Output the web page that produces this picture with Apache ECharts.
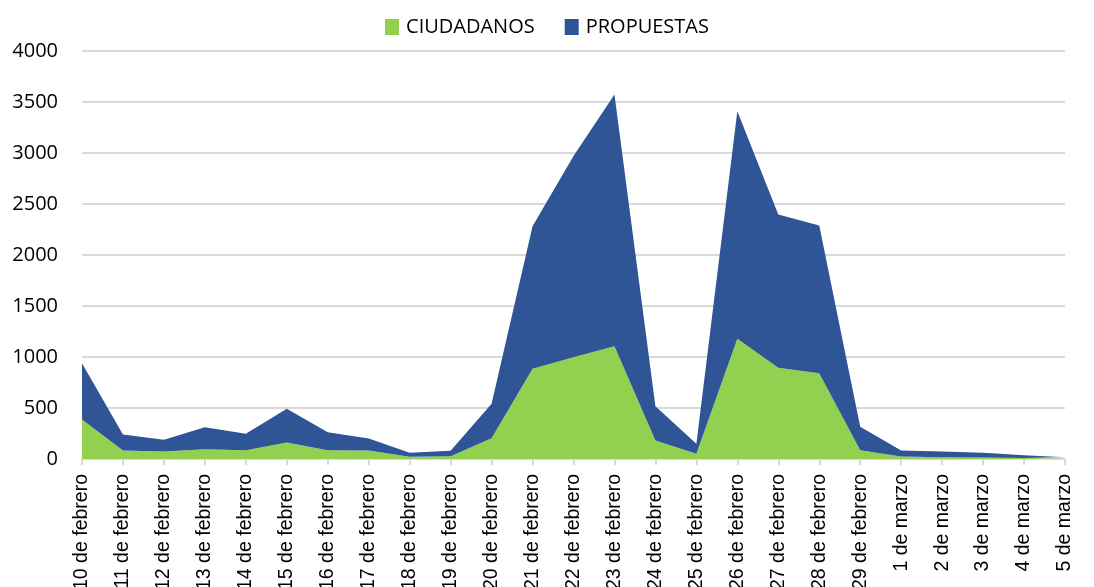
<!DOCTYPE html>
<html>
<head>
<meta charset="utf-8">
<script src="https://cdn.jsdelivr.net/npm/echarts@6/dist/echarts.min.js"></script>
<style>
  html, body { margin: 0; padding: 0; background: #fff; }
  #chart { width: 1094px; height: 587px; }
</style>
</head>
<body>
<div id="chart"></div>
<script>
const dias = [
  '10 de febrero', '11 de febrero', '12 de febrero', '13 de febrero', '14 de febrero',
  '15 de febrero', '16 de febrero', '17 de febrero', '18 de febrero', '19 de febrero',
  '20 de febrero', '21 de febrero', '22 de febrero', '23 de febrero', '24 de febrero',
  '25 de febrero', '26 de febrero', '27 de febrero', '28 de febrero', '29 de febrero',
  '1 de marzo', '2 de marzo', '3 de marzo', '4 de marzo', '5 de marzo'
];
const ciudadanos = [387, 83, 73, 96, 86, 162, 86, 83, 22, 28, 204, 884, 998, 1106, 181, 51, 1178, 894, 841, 87, 25, 18, 15, 10, 5];
const propuestas = [552, 157, 115, 216, 161, 330, 177, 118, 39, 52, 337, 1399, 1972, 2468, 337, 98, 2232, 1503, 1448, 228, 58, 56, 46, 27, 13];
const yTicks = [0, 500, 1000, 1500, 2000, 2500, 3000, 3500, 4000];

const uiFont = "'Open Sans', 'Noto Sans', sans-serif";

let myChart = echarts.init(document.getElementById('chart'));

function areaSerie(name, data, color) {
  return {
    name: name,
    type: 'line',
    stack: 'total',
    data: data,
    symbol: 'none',
    lineStyle: { width: 0 },
    areaStyle: { color: color, opacity: 1 },
    itemStyle: { color: color }
  };
}

myChart.setOption({
  animation: false,
  legend: {
    top: 12,
    left: 'center',
    itemWidth: 14,
    itemHeight: 16,
    itemGap: 30,
    icon: 'rect',
    textStyle: { fontFamily: uiFont, fontSize: 20, color: '#000', padding: [0, 0, 0, 2] },
    data: ['CIUDADANOS', 'PROPUESTAS']
  },
  grid: { left: 82, right: 29, top: 51, bottom: 128, containLabel: false, outerBoundsMode: 'none' },
  xAxis: {
    type: 'category',
    boundaryGap: false,
    data: dias,
    axisLine: { lineStyle: { color: '#d9d9d9', width: 2 } },
    axisTick: { show: true, alignWithLabel: true, length: 6, lineStyle: { color: '#d9d9d9', width: 2 } },
    axisLabel: {
      interval: 0,
      rotate: 90,
      margin: 15,
      fontFamily: "'Liberation Sans', Arial, sans-serif",
      fontSize: 19.5,
      color: '#000'
    }
  },
  yAxis: {
    type: 'value',
    min: yTicks[0],
    max: yTicks[yTicks.length - 1],
    interval: 500,
    axisLine: { show: false },
    axisTick: { show: false },
    splitLine: { lineStyle: { color: '#d9d9d9', width: 2 } },
    axisLabel: {
      fontFamily: uiFont,
      fontSize: 20,
      color: '#000',
      margin: 24,
      formatter: function (v) { return String(v); }
    }
  },
  series: [
    areaSerie('CIUDADANOS', ciudadanos, '#92d050'),
    areaSerie('PROPUESTAS', propuestas, '#2f5597')
  ]
});
</script>
</body>
</html>
